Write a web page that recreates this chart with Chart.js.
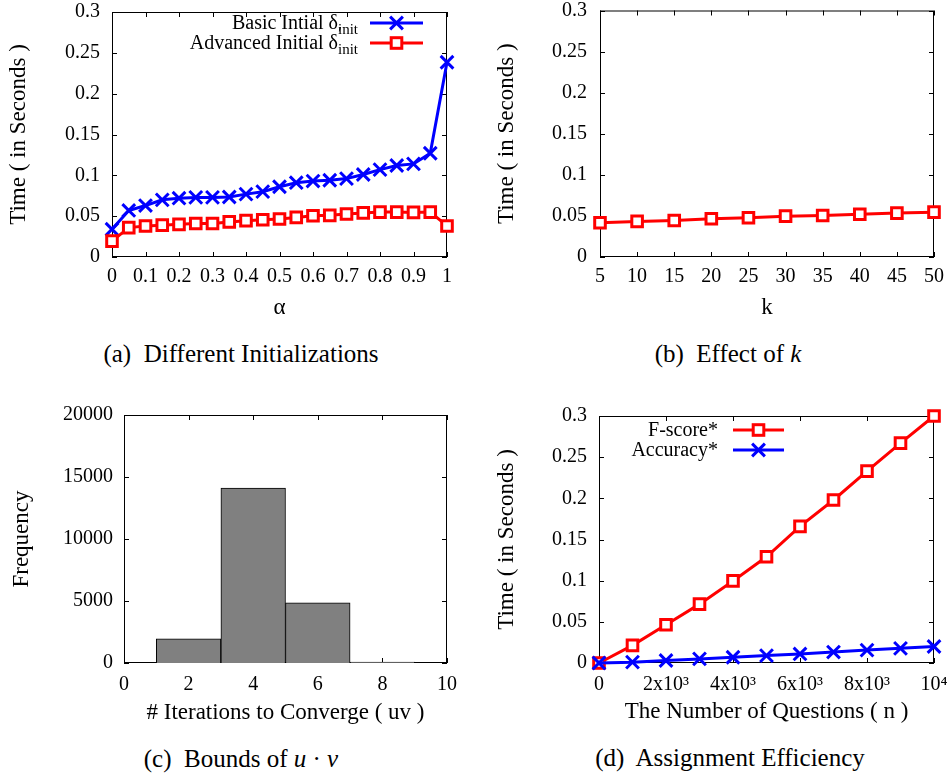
<!DOCTYPE html>
<html>
<head>
<meta charset="utf-8">
<script src="https://cdn.jsdelivr.net/npm/chart.js@4.4.1/dist/chart.umd.min.js"></script>
<style>
    body { margin: 0; background: #fff; width: 950px; height: 776px; position: relative; overflow: hidden; }
    .panel { position: absolute; }
    .cap {
        position: absolute; transform: translate(-50%, -50%);
        font-family: "Liberation Serif", serif; font-size: 25px; line-height: 1;
        white-space: pre; color: #000;
    }
</style>
</head>
<body>
<canvas id="chart-a" class="panel" width="470" height="330" style="left:0;top:0"></canvas>
<canvas id="chart-b" class="panel" width="470" height="330" style="left:480px;top:0"></canvas>
<canvas id="chart-c" class="panel" width="470" height="350" style="left:0;top:380px"></canvas>
<canvas id="chart-d" class="panel" width="470" height="350" style="left:480px;top:380px"></canvas>

<div class="cap" style="left:241px;top:353px">(a)  Different Initializations</div>
<div class="cap" style="left:728px;top:353px">(b)  Effect of <i>k</i></div>
<div class="cap" style="left:241px;top:758px">(c)  Bounds of <i>u</i> · <i>v</i></div>
<div class="cap" style="left:730px;top:757px">(d)  Assignment Efficiency</div>

<script>
const SERIF = '"Liberation Serif", "Times New Roman", serif';
const BLUE = '#0000ff';
const RED = '#ff0000';

/* ── Data ──────────────────────────────────────────────── */
const ALPHA = [0, 0.05, 0.1, 0.15, 0.2, 0.25, 0.3, 0.35, 0.4, 0.45, 0.5,
               0.55, 0.6, 0.65, 0.7, 0.75, 0.8, 0.85, 0.9, 0.95, 1];
const BASIC_INIT = [0.034, 0.057, 0.063, 0.070, 0.072, 0.073, 0.073, 0.0735, 0.077, 0.080, 0.086,
                    0.091, 0.093, 0.094, 0.096, 0.101, 0.107, 0.112, 0.114, 0.127, 0.2385];
const ADVANCED_INIT = [0.0194, 0.036, 0.038, 0.039, 0.040, 0.041, 0.041, 0.043, 0.0445, 0.0457, 0.0465,
                       0.0485, 0.0505, 0.051, 0.0526, 0.054, 0.055, 0.055, 0.0546, 0.055, 0.038];

const K_VALUES = [5, 10, 15, 20, 25, 30, 35, 40, 45, 50];
const K_TIME = [0.0416, 0.0433, 0.0445, 0.0465, 0.0477, 0.0497, 0.0505, 0.052, 0.0534, 0.0546];

const ITER_BINS = [2, 4, 6, 8];
const ITER_FREQ = [1950, 14100, 4850, 80];

const N_QUESTIONS = [0, 1000, 2000, 3000, 4000, 5000, 6000, 7000, 8000, 9000, 10000];
const FSCORE_TIME = [0, 0.0214, 0.0464, 0.0715, 0.0997, 0.129, 0.166, 0.198, 0.233, 0.267, 0.300];
const ACCURACY_TIME = [0, 0.001, 0.003, 0.005, 0.007, 0.009, 0.011, 0.0133, 0.0157, 0.0178, 0.020];

const TIME_TICKS = [0, 0.05, 0.1, 0.15, 0.2, 0.25, 0.3];
const TIME_LABELS = ['0', '0.05', '0.1', '0.15', '0.2', '0.25', '0.3'];
const ALPHA_TICKS = [0, 0.1, 0.2, 0.3, 0.4, 0.5, 0.6, 0.7, 0.8, 0.9, 1];
const ALPHA_LABELS = ['0', '0.1', '0.2', '0.3', '0.4', '0.5', '0.6', '0.7', '0.8', '0.9', '1'];
const K_TICKS = [5, 10, 15, 20, 25, 30, 35, 40, 45, 50];
const K_LABELS = ['5', '10', '15', '20', '25', '30', '35', '40', '45', '50'];
const ITER_TICKS = [0, 2, 4, 6, 8, 10];
const ITER_LABELS = ['0', '2', '4', '6', '8', '10'];
const FREQ_TICKS = [0, 5000, 10000, 15000, 20000];
const FREQ_LABELS = ['0', '5000', '10000', '15000', '20000'];
const N_TICKS = [0, 2000, 4000, 6000, 8000, 10000];
const N_LABELS = ['0', '2x10³', '4x10³', '6x10³', '8x10³', '10⁴'];

/* ── Plugins: gnuplot box + inward ticks, gnuplot legend ─ */
const framePlugin = {
    id: 'frame',
    beforeDatasetsDraw(chart) {
        const { ctx, chartArea: a, scales } = chart;
        const len = 5;
        ctx.save();
        ctx.strokeStyle = '#000';
        ctx.lineWidth = 1;
        ctx.strokeRect(a.left + 0.5, a.top + 0.5, a.right - a.left - 1, a.bottom - a.top - 1);
        ctx.beginPath();
        scales.x.ticks.forEach(t => {
            const px = Math.round(scales.x.getPixelForValue(t.value)) + 0.5;
            ctx.moveTo(px, a.bottom); ctx.lineTo(px, a.bottom - len);
            ctx.moveTo(px, a.top); ctx.lineTo(px, a.top + len);
        });
        scales.y.ticks.forEach(t => {
            const py = Math.round(scales.y.getPixelForValue(t.value)) + 0.5;
            ctx.moveTo(a.left, py); ctx.lineTo(a.left + len, py);
            ctx.moveTo(a.right, py); ctx.lineTo(a.right - len, py);
        });
        ctx.stroke();
        ctx.restore();
    }
};

function drawMarker(ctx, kind, x, y, color) {
    ctx.save();
    ctx.strokeStyle = color;
    ctx.lineWidth = 3;
    if (kind === 'crossRot') {
        const r = 6.4;
        ctx.beginPath();
        ctx.moveTo(x - r, y - r); ctx.lineTo(x + r, y + r);
        ctx.moveTo(x + r, y - r); ctx.lineTo(x - r, y + r);
        ctx.stroke();
    } else {
        const r = 5.3;
        ctx.fillStyle = '#fff';
        ctx.fillRect(x - r, y - r, 2 * r, 2 * r);
        ctx.strokeRect(x - r, y - r, 2 * r, 2 * r);
    }
    ctx.restore();
}

const keyPlugin = {
    id: 'gpKey',
    afterDatasetsDraw(chart, args, opts) {
        if (!opts.entries) return;
        const { ctx } = chart;
        ctx.save();
        ctx.fillStyle = '#000';
        ctx.textBaseline = 'alphabetic';
        ctx.textAlign = 'left';
        opts.entries.forEach((e, row) => {
            const y = opts.rows[row];
            // measure the text parts, then draw right-aligned
            let cur = 0, total = 0;
            const placed = e.parts.map(p => {
                ctx.font = `${p.size || 20}px ${SERIF}`;
                const w = ctx.measureText(p.text).width;
                const item = { p, x: cur, w };
                total = Math.max(total, cur + w);
                if (p.advance !== false) cur += w;
                return item;
            });
            const start = opts.textRight - total;
            placed.forEach(({ p, x }) => {
                ctx.font = `${p.size || 20}px ${SERIF}`;
                ctx.fillText(p.text, start + x, y + 6 + (p.dy || 0));
            });
            ctx.strokeStyle = e.color;
            ctx.lineWidth = 3;
            ctx.beginPath();
            ctx.moveTo(opts.lineFrom, y);
            ctx.lineTo(opts.lineTo, y);
            ctx.stroke();
            drawMarker(ctx, e.marker, (opts.lineFrom + opts.lineTo) / 2, y, e.color);
        });
        ctx.restore();
    }
};

/* ── Axis helpers ──────────────────────────────────────── */
function xAxis(ticks, labels, title, height, labelPad, titlePad) {
    return {
        type: 'linear',
        min: ticks[0],
        max: ticks[ticks.length - 1],
        afterBuildTicks: s => { s.ticks = ticks.map(v => ({ value: v })); },
        afterFit: s => { s.height = height; s.paddingLeft = 0; s.paddingRight = 0; },
        grid: { display: false, drawTicks: false },
        border: { display: false },
        ticks: {
            color: '#000', padding: labelPad, autoSkip: false, maxRotation: 0,
            font: { family: SERIF, size: 20 },
            callback: (v, i) => labels[i]
        },
        title: {
            display: true, text: title, color: '#000',
            font: { family: SERIF, size: 23 },
            padding: { top: 0, bottom: titlePad }
        }
    };
}

function yAxis(ticks, labels, title, width, labelPad, titlePad) {
    return {
        type: 'linear',
        min: ticks[0],
        max: ticks[ticks.length - 1],
        afterBuildTicks: s => { s.ticks = ticks.map(v => ({ value: v })); },
        afterFit: s => { s.width = width; s.paddingTop = 0; s.paddingBottom = 0; },
        grid: { display: false, drawTicks: false },
        border: { display: false },
        ticks: {
            color: '#000', padding: labelPad, autoSkip: false,
            font: { family: SERIF, size: 20 },
            callback: (v, i) => labels[i]
        },
        title: {
            display: true, text: title, color: '#000',
            font: { family: SERIF, size: 23 },
            padding: { top: titlePad, bottom: 0 }
        }
    };
}

function lineSet(xs, ys, color, marker) {
    return {
        data: xs.map((x, i) => ({ x, y: ys[i] })),
        borderColor: color,
        borderWidth: 3,
        pointStyle: marker,
        pointRadius: marker === 'rect' ? 7.5 : 9,
        pointBorderWidth: 3,
        pointBorderColor: color,
        pointBackgroundColor: marker === 'rect' ? '#fff' : color,
        tension: 0,
        clip: false
    };
}

function baseOptions(padding, scales, key) {
    return {
        responsive: false,
        animation: false,
        events: [],
        layout: { padding },
        plugins: { legend: { display: false }, tooltip: { enabled: false }, gpKey: key || {} },
        scales
    };
}

/* ── (a) Different Initializations ─────────────────────── */
new Chart(document.getElementById('chart-a'), {
    type: 'line',
    data: {
        datasets: [
            lineSet(ALPHA, ADVANCED_INIT, RED, 'rect'),
            lineSet(ALPHA, BASIC_INIT, BLUE, 'crossRot')
        ]
    },
    options: baseOptions(
        { top: 9, right: 23, left: 0, bottom: 0 },
        {
            x: xAxis(ALPHA_TICKS, ALPHA_LABELS, 'α', 73, 8, 8),
            y: yAxis(TIME_TICKS, TIME_LABELS, 'Time ( in Seconds )', 112, 12, 5)
        },
        {
            textRight: 358, lineFrom: 370, lineTo: 423, rows: [23, 43],
            entries: [
                { color: BLUE, marker: 'crossRot',
                  parts: [{ text: 'Basic Intial δ' }, { text: 'init', size: 15, dy: 5 }] },
                { color: RED, marker: 'rect',
                  parts: [{ text: 'Advanced Initial δ' }, { text: '′', size: 18, dy: -9, advance: false },
                          { text: 'init', size: 15, dy: 5 }] }
            ]
        }
    ),
    plugins: [framePlugin, keyPlugin]
});

/* ── (b) Effect of k ───────────────────────────────────── */
new Chart(document.getElementById('chart-b'), {
    type: 'line',
    data: { datasets: [lineSet(K_VALUES, K_TIME, RED, 'rect')] },
    options: baseOptions(
        { top: 9, right: 16, left: 0, bottom: 0 },
        {
            x: xAxis(K_TICKS, K_LABELS, 'k', 73, 8, 8),
            y: yAxis(TIME_TICKS, TIME_LABELS, 'Time ( in Seconds )', 120, 13, 13)
        }
    ),
    plugins: [framePlugin]
});

/* ── (c) Bounds of u·v ─────────────────────────────────── */
new Chart(document.getElementById('chart-c'), {
    type: 'bar',
    data: {
        datasets: [{
            data: ITER_BINS.map((x, i) => ({ x, y: ITER_FREQ[i] })),
            backgroundColor: '#808080',
            borderColor: '#000',
            borderWidth: 1,
            barPercentage: 1,
            categoryPercentage: 1
        }]
    },
    options: baseOptions(
        { top: 35, right: 23, left: 0, bottom: 0 },
        {
            x: Object.assign(xAxis(ITER_TICKS, ITER_LABELS, '# Iterations to Converge ( uv )', 67, 10, 3), { offset: false }),
            y: yAxis(FREQ_TICKS, FREQ_LABELS, 'Frequency', 124, 11, 8)
        }
    ),
    plugins: [framePlugin]
});

/* ── (d) Assignment Efficiency ─────────────────────────── */
new Chart(document.getElementById('chart-d'), {
    type: 'line',
    data: {
        datasets: [
            lineSet(N_QUESTIONS, ACCURACY_TIME, BLUE, 'crossRot'),
            lineSet(N_QUESTIONS, FSCORE_TIME, RED, 'rect')
        ]
    },
    options: baseOptions(
        { top: 36, right: 16, left: 0, bottom: 0 },
        {
            x: xAxis(N_TICKS, N_LABELS, 'The Number of Questions ( n )', 67, 10, 4),
            y: yAxis(TIME_TICKS, TIME_LABELS, 'Time ( in Seconds )', 119, 12, 13)
        },
        {
            textRight: 238, lineFrom: 253, lineTo: 304, rows: [50, 70],
            entries: [
                { color: RED, marker: 'rect', parts: [{ text: 'F-score*' }] },
                { color: BLUE, marker: 'crossRot', parts: [{ text: 'Accuracy*' }] }
            ]
        }
    ),
    plugins: [framePlugin, keyPlugin]
});
</script>
</body>
</html>
